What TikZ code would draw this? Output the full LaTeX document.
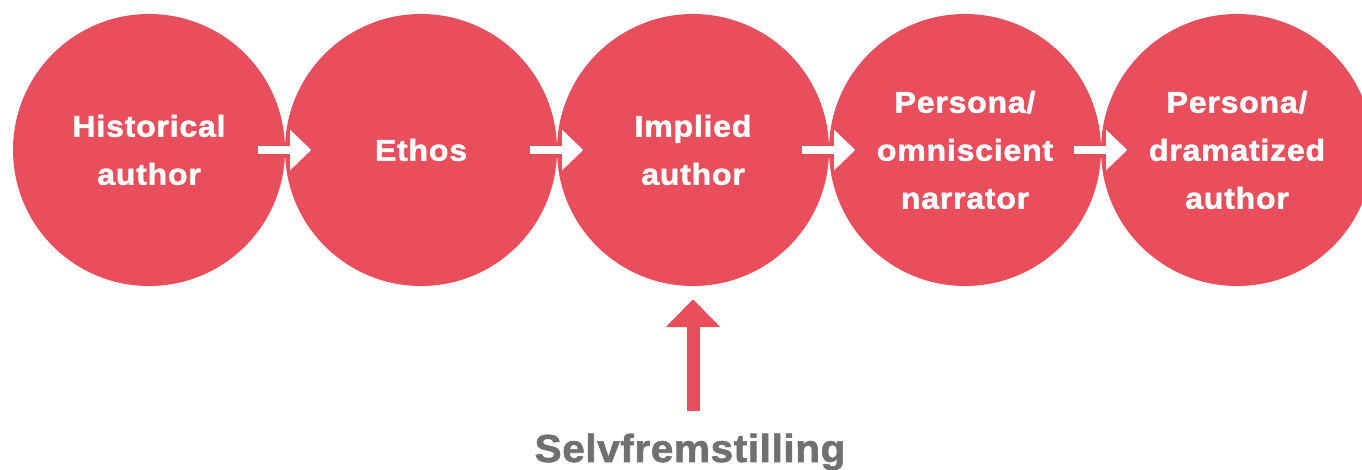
\documentclass[tikz,border=0pt]{standalone}
\usepackage{fontspec}
\setmainfont{Liberation Sans}
\usetikzlibrary{arrows.meta,positioning}
\definecolor{cred}{RGB}{233,78,92}
\definecolor{cgray}{RGB}{112,112,112}
\newfontfamily\circfont[LetterSpace=2.5,FakeBold=1.6,FakeStretch=1.07]{Liberation Sans Bold}
\newfontfamily\selfont[LetterSpace=1.5,FakeBold=1.6,FakeStretch=1.04]{Liberation Sans Bold}
\tikzset{
  circ/.style={circle, fill=cred, minimum size=272pt, inner sep=0pt, align=center,
    text=white, font=\circfont\fontsize{30}{48}\selectfont},
  wharrow/.style={white, line width=8pt, -{Triangle[length=21pt,width=39pt]}},
  redarrow/.style={cred, line width=13pt, -{Triangle[length=28pt,width=53pt]}}
}
\begin{document}
\begin{tikzpicture}[x=1pt,y=1pt]
\useasboundingbox (0,0) rectangle (1362,470);
\node[circ] (c1) at (149,320) {Historical\\author};
\node[circ] (c2) at (421,320) {Ethos};
\node[circ] (c3) at (693,320) {Implied\\author};
\node[circ] (c4) at (965,320) {Persona/\\omniscient\\narrator};
\node[circ] (c5) at (1237,320) {Persona/\\dramatized\\author};
\draw[wharrow] ([xshift=-27pt]c1.east) -- ([xshift=26pt]c1.east);
\draw[wharrow] ([xshift=-27pt]c2.east) -- ([xshift=26pt]c2.east);
\draw[wharrow] ([xshift=-27pt]c3.east) -- ([xshift=26pt]c3.east);
\draw[wharrow] ([xshift=-27pt]c4.east) -- ([xshift=26pt]c4.east);
\node[anchor=base, text=cgray, font=\selfont\fontsize{39}{45}\selectfont, inner sep=0pt] (sel) at (690,8) {Selvfremstilling};
\coordinate (abase) at (693,59);
\draw[redarrow] (abase) -- ([yshift=-13pt]c3.south);
\end{tikzpicture}
\end{document}
